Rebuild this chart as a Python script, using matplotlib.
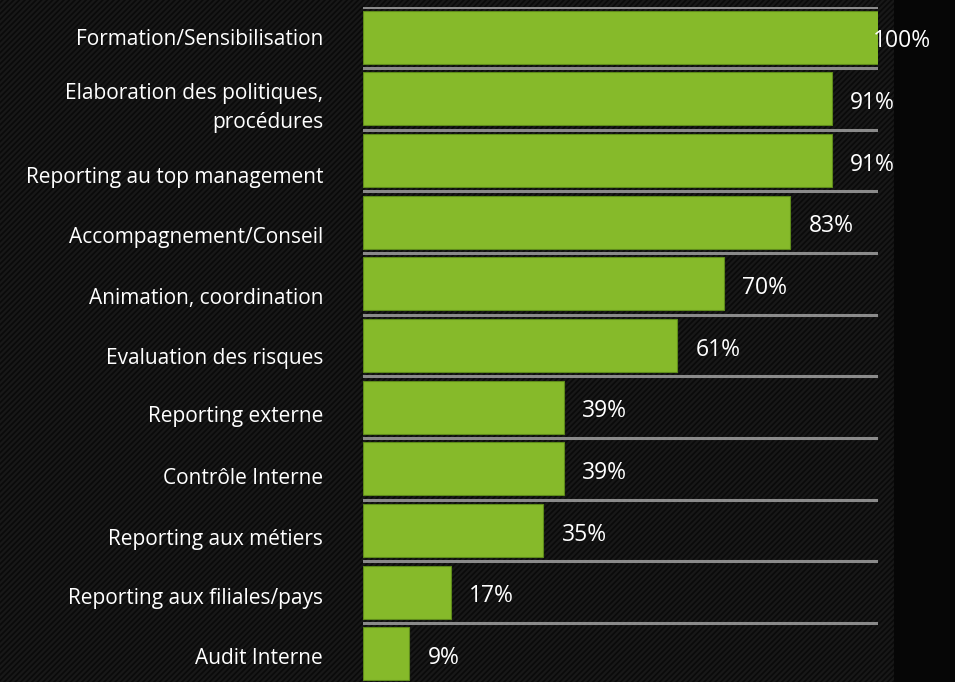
import matplotlib
matplotlib.use("Agg")
import matplotlib.pyplot as plt
from matplotlib.patches import Rectangle
import numpy as np

categories = [
    "Formation/Sensibilisation",
    "Elaboration des politiques,\nprocédures",
    "Reporting au top management",
    "Accompagnement/Conseil",
    "Animation, coordination",
    "Evaluation des risques",
    "Reporting externe",
    "Contrôle Interne",
    "Reporting aux métiers",
    "Reporting aux filiales/pays",
    "Audit Interne",
]
values = [100, 91, 91, 83, 70, 61, 39, 39, 35, 17, 9]
value_labels = ["100%", "91%", "91%", "83%", "70%", "61%", "39%", "39%", "35%", "17%", "9%"]

# vertical nudge (pixels, downward) of each category label relative to its bar
label_nudge = [2, 9, 17, 15, 15, 13, 9, 10, 9, 6, 5]

plt.rcParams["font.family"] = ["Open Sans", "DejaVu Sans"]
plt.rcParams["hatch.linewidth"] = 1.6
plt.rcParams["hatch.color"] = "#181818"

W, H = 955, 682
fig = plt.figure(figsize=(W / 100, H / 100), dpi=100)
fig.patch.set_facecolor("#060606")

# textured backdrop behind the chart
bg = Rectangle((0, 0), 894 / W, 1, transform=fig.transFigure, facecolor="#0a0a0a",
               edgecolor="#181818", hatch="//////", linewidth=0, zorder=-10)
fig.patches.append(bg)

ax_left = 363 / W
ax_width = 515 / W
top_px = 6.5
band = 61.65
n = len(categories)
bottom_px = top_px + band * n
ax = fig.add_axes([ax_left, 1 - bottom_px / H, ax_width, (bottom_px - top_px) / H])
ax.set_facecolor("none")

y = np.arange(n)
ax.barh(y, values, height=0.86, color="#86BA2A", edgecolor="#5E8A1A", linewidth=0.8, zorder=3)
ax.set_xlim(0, 100)
ax.set_ylim(n - 0.5, -0.5)

# separators between categories
for b in np.arange(-0.5, n - 0.5, 1.0):
    ax.axhline(b, color="#8a8a8a", linewidth=2.2, zorder=2)

ax.set_yticks([])
ax.set_xticks([])
for s in ax.spines.values():
    s.set_visible(False)

# category labels to the left of the bars
for yi, cat, dy in zip(y, categories, label_nudge):
    ax.annotate(cat, xy=(0, yi), xycoords=("axes fraction", "data"),
                xytext=(-40, -dy), textcoords="offset pixels",
                ha="right", va="center", color="white", fontsize=15,
                linespacing=1.45, annotation_clip=False)

# value labels at the end of each bar
for yi, v, lab in zip(y, values, value_labels):
    xpos = min(v + 3.6, 99.0)
    ax.annotate(lab, xy=(xpos, yi), xytext=(0, -4), textcoords="offset pixels",
                color="white", fontsize=16.5, va="center", ha="left", zorder=4,
                annotation_clip=False)

fig.savefig("out.png", dpi=100, facecolor=fig.get_facecolor())
